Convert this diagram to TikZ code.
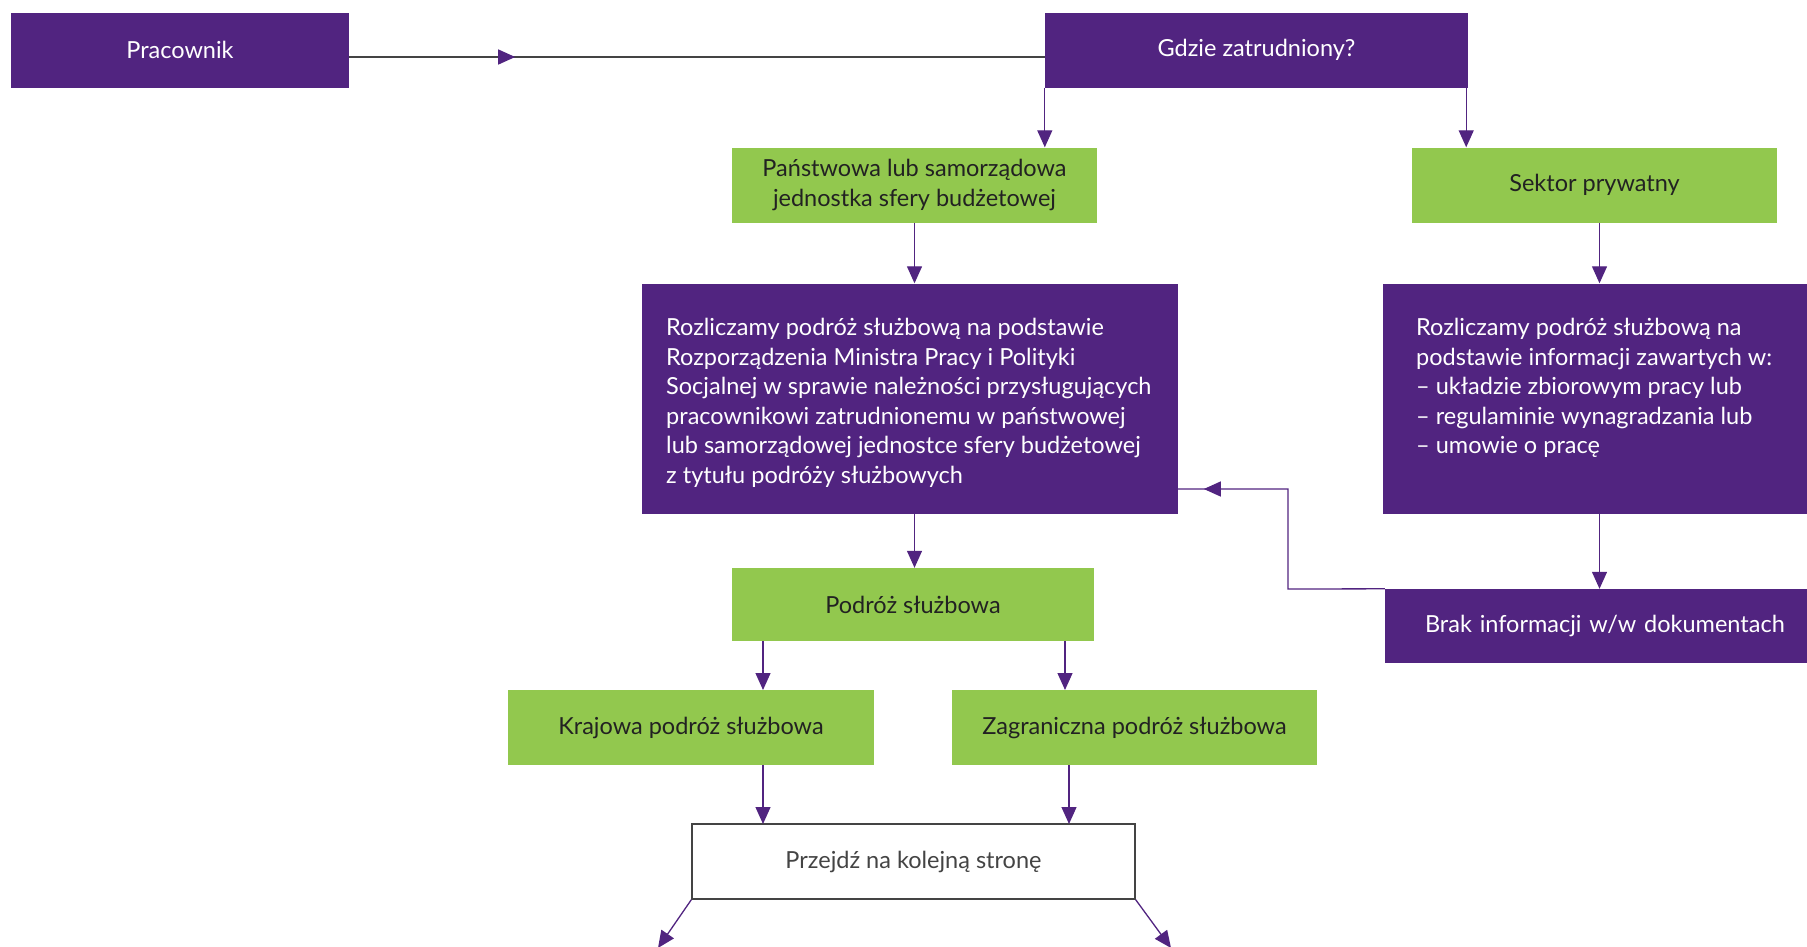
\documentclass[tikz,border=0pt]{standalone}
\usepackage{fontspec}
\setmainfont{Lato}
\usetikzlibrary{arrows.meta,decorations.markings}
\definecolor{purp}{HTML}{512480}
\definecolor{grn}{HTML}{92C84E}
\definecolor{txtd}{HTML}{222222}
\definecolor{lgray}{HTML}{444444}
\begin{document}
\begin{tikzpicture}[x=1pt,y=-1pt,
  font=\fontsize{23.5}{29.5}\selectfont,
  tip/.tip={Triangle[length=17pt,width=15pt]},
  pbox/.style={fill=purp, text=white, inner sep=0pt, minimum height=75pt},
  gbox/.style={fill=grn, text=txtd, inner sep=0pt, align=center, minimum height=75pt},
  wbox/.style={fill=white, draw=lgray, line width=1.3pt, text=lgray, inner sep=0pt, minimum height=75pt},
  btext/.style={text=white, anchor=north west, align=left, inner sep=0pt},
  link/.style={draw=purp, line width=1.3pt, -{tip}},
  midarrow/.style={postaction={decorate}, decoration={markings,
     mark=at position #1 with {\arrow[purp]{tip}}}}
]
\useasboundingbox (0,0) rectangle (1807,946);

% nodes
\node[pbox, minimum width=338pt] (prac) at (180,50) {Pracownik};
\node[pbox, minimum width=423pt] (gdzie) at (1256.5,50) {Gdzie zatrudniony?};
\node[gbox, minimum width=365pt] (pans) at (914.5,185) {Państwowa lub samorządowa\\jednostka sfery budżetowej};
\node[gbox, minimum width=365pt] (sektor) at (1594.5,185) {Sektor prywatny};
\node[pbox, minimum width=536pt, minimum height=230.5pt] (roz1) at (910,398.75) {};
\node[btext] (roz1t) at (666,318) {Rozliczamy podróż służbową na podstawie\\
Rozporządzenia Ministra Pracy i Polityki\\
Socjalnej w sprawie należności przysługujących\\
pracownikowi zatrudnionemu w państwowej\\
lub samorządowej jednostce sfery budżetowej\\
z tytułu podróży służbowych};
\node[pbox, minimum width=440pt, minimum height=230.5pt] (roz2) at (1603,398.75) {};
\node[btext] (roz2t) at (1416,318) {Rozliczamy podróż służbową na\\
podstawie informacji zawartych w:\\
– układzie zbiorowym pracy lub\\
– regulaminie wynagradzania lub\\
– umowie o pracę};
\node[pbox, minimum width=440pt, minimum height=74pt, text width=420pt, align=left] (brak) at (1605,626) {\hspace*{30pt}Brak informacji w/w dokumentach};
\node[gbox, minimum width=362pt, minimum height=73pt] (podroz) at (913,604.5) {Podróż służbowa};
\node[gbox, minimum width=366pt] (kraj) at (691,727.5) {Krajowa podróż służbowa};
\node[gbox, minimum width=365pt] (zagr) at (1134.5,727.5) {Zagraniczna podróż służbowa};
\node[wbox, minimum width=443pt] (przej) at (913.5,861.5) {Przejdź na kolejną stronę};

\coordinate (outL) at (658,948);
\coordinate (outR) at (1171,948);

% connectors
\draw[draw=lgray, line width=1.3pt, midarrow=166pt] ([yshift=-7pt]prac.east) -- ([yshift=-7pt]gdzie.west);
\draw[link] (gdzie.south west) -- (gdzie.south west |- pans.north);
\draw[link] ([xshift=-2pt]gdzie.south east) -- ([xshift=-2pt]gdzie.south east |- sektor.north);
\draw[link] (pans.south) -- (pans.south |- roz1.north);
\draw[link] ([xshift=5pt]sektor.south) -- ([xshift=5pt]sektor.south |- roz2.north);
\draw[link] ([xshift=5pt]sektor.south |- roz2.south) -- ([xshift=5pt]sektor.south |- brak.north);
\draw[draw=purp, line width=1.3pt, midarrow=281pt] (brak.north west) -- (1288,589) -- (1288,489) -- (roz1.east |- 0,489);
\draw[link] (pans.south |- roz1.south) -- (pans.south |- podroz.north);
\draw[link] (763,641) -- (763,690);
\draw[link] (1065,641) -- (1065,690);
\draw[link] (kraj.south -| 763,0) -- (763,824);
\draw[link] (zagr.south -| 1069,0) -- (1069,824);
\draw[link] (przej.south west) -- (outL);
\draw[link] (przej.south east) -- (outR);
\end{tikzpicture}
\end{document}
